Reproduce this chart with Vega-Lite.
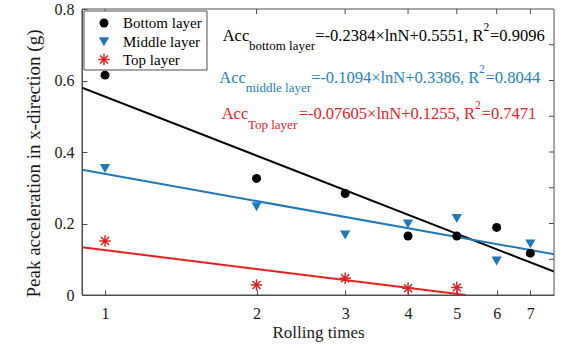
{
  "$schema": "https://vega.github.io/schema/vega-lite/v6.json",
  "width": 472,
  "height": 286,
  "autosize": "none",
  "padding": {"left": 82, "top": 9, "right": 33, "bottom": 59},
  "background": "white",
  "config": {
    "view": {"stroke": null},
    "font": "Liberation Serif, Times New Roman, DejaVu Serif, serif",
    "axis": {
      "labelFont": "Liberation Serif, Times New Roman, DejaVu Serif, serif",
      "titleFont": "Liberation Serif, Times New Roman, DejaVu Serif, serif",
      "labelFontSize": 16,
      "labelColor": "#1a1a1a",
      "titleColor": "#1a1a1a",
      "titleFontWeight": "normal",
      "domainColor": "#4d4d4d",
      "tickColor": "#4d4d4d",
      "domainWidth": 1,
      "tickWidth": 1,
      "grid": false,
      "tickSize": -5,
      "labelOverlap": false,
      "labelFlush": false
    },
    "axisY": {"tickCount": 8}
  },
  "datasets": {
    "points": [
      {"layer": "Bottom layer", "N": 1, "acc": 0.615},
      {"layer": "Bottom layer", "N": 2, "acc": 0.326},
      {"layer": "Bottom layer", "N": 3, "acc": 0.284},
      {"layer": "Bottom layer", "N": 4, "acc": 0.165},
      {"layer": "Bottom layer", "N": 5, "acc": 0.165},
      {"layer": "Bottom layer", "N": 6, "acc": 0.189},
      {"layer": "Bottom layer", "N": 7, "acc": 0.117},
      {"layer": "Middle layer", "N": 1, "acc": 0.354},
      {"layer": "Middle layer", "N": 2, "acc": 0.247},
      {"layer": "Middle layer", "N": 3, "acc": 0.168},
      {"layer": "Middle layer", "N": 4, "acc": 0.199},
      {"layer": "Middle layer", "N": 5, "acc": 0.214},
      {"layer": "Middle layer", "N": 6, "acc": 0.095},
      {"layer": "Middle layer", "N": 7, "acc": 0.143},
      {"layer": "Top layer", "N": 1, "acc": 0.151},
      {"layer": "Top layer", "N": 2, "acc": 0.028},
      {"layer": "Top layer", "N": 3, "acc": 0.047},
      {"layer": "Top layer", "N": 4, "acc": 0.019},
      {"layer": "Top layer", "N": 5, "acc": 0.021}
    ],
    "lines": [
      {"layer": "Bottom layer", "N": 0.9, "acc": 0.5802},
      {"layer": "Bottom layer", "N": 7.8, "acc": 0.0654},
      {"layer": "Middle layer", "N": 0.9, "acc": 0.3501},
      {"layer": "Middle layer", "N": 7.8, "acc": 0.1139},
      {"layer": "Top layer", "N": 0.9, "acc": 0.1335},
      {"layer": "Top layer", "N": 5.208, "acc": 0.0}
    ],
    "labels": [
      {"layer": "Bottom layer", "part": "base", "text": "Acc", "N": 1.713, "acc": 0.7231},
      {"layer": "Bottom layer", "part": "sub", "text": "bottom layer", "N": 1.932, "acc": 0.6979},
      {"layer": "Bottom layer", "part": "base", "text": "=-0.2384×lnN+0.5551, R", "N": 2.617, "acc": 0.7245},
      {"layer": "Bottom layer", "part": "sup", "text": "2", "N": 5.65, "acc": 0.7469},
      {"layer": "Bottom layer", "part": "base", "text": "=0.9096", "N": 5.82, "acc": 0.7245},
      {"layer": "Middle layer", "part": "base", "text": "Acc", "N": 1.687, "acc": 0.6056},
      {"layer": "Middle layer", "part": "sub", "text": "middle layer", "N": 1.903, "acc": 0.5804},
      {"layer": "Middle layer", "part": "base", "text": "=-0.1094×lnN+0.3386, R", "N": 2.566, "acc": 0.607},
      {"layer": "Middle layer", "part": "sup", "text": "2", "N": 5.534, "acc": 0.6294},
      {"layer": "Middle layer", "part": "base", "text": "=0.8044", "N": 5.702, "acc": 0.607},
      {"layer": "Top layer", "part": "base", "text": "Acc", "N": 1.705, "acc": 0.5049},
      {"layer": "Top layer", "part": "sub", "text": "Top layer", "N": 1.923, "acc": 0.4755},
      {"layer": "Top layer", "part": "base", "text": "=-0.07605×lnN+0.1255, R", "N": 2.425, "acc": 0.5063},
      {"layer": "Top layer", "part": "sup", "text": "2", "N": 5.436, "acc": 0.5287},
      {"layer": "Top layer", "part": "base", "text": "=0.7471", "N": 5.601, "acc": 0.5063}
    ],
    "legendBox": [
      {"N1": 0.9083, "N2": 1.5944, "a1": 0.7944, "a2": 0.6294}
    ],
    "legendEntries": [
      {"layer": "Bottom layer", "N": 0.9953, "labelN": 1.0857, "acc": 0.7608},
      {"layer": "Middle layer", "N": 0.9953, "labelN": 1.0857, "acc": 0.7084},
      {"layer": "Top layer", "N": 0.9953, "labelN": 1.0857, "acc": 0.6587}
    ],
    "frame": [
      {"N1": 0.9, "N2": 7.8, "a1": 0, "a2": 0.8}
    ],
    "xticks": [{"N": 1}, {"N": 2}, {"N": 3}, {"N": 4}, {"N": 5}, {"N": 6}, {"N": 7}],
    "yticks": [{"acc": 0.1}, {"acc": 0.2}, {"acc": 0.3}, {"acc": 0.4}, {"acc": 0.5}, {"acc": 0.6}, {"acc": 0.7}]
  },
  "layer": [
    {
      "data": {"name": "lines"},
      "mark": {"type": "line", "strokeWidth": 2, "clip": true},
      "encoding": {
        "x": {
          "field": "N", "type": "quantitative",
          "scale": {"type": "log", "domain": [0.9, 7.8], "nice": false},
          "axis": {"orient": "bottom", "title": "Rolling times", "values": [1, 2, 3, 4, 5, 6, 7], "format": "d", "labelPadding": 15, "titleFontSize": 17, "titleY": 37, "titleBaseline": "middle"}
        },
        "y": {
          "field": "acc", "type": "quantitative",
          "scale": {"domain": [0, 0.8], "nice": false, "zero": false},
          "axis": {"orient": "left", "title": "Peak acceleration in x-direction (g)", "values": [0, 0.1, 0.2, 0.3, 0.4, 0.5, 0.6, 0.7, 0.8], "tickCount": 8, "labelExpr": "datum.value == 0 ? '0' : format(datum.value, '.1f')", "labelPadding": 13, "titleFontSize": 19, "titleX": -49, "titleY": 154, "titleBaseline": "middle", "titleAngle": -90, "titleAlign": "center"}
        },
        "stroke": {
          "field": "layer", "type": "nominal",
          "scale": {"domain": ["Bottom layer", "Middle layer", "Top layer"], "range": ["#000000", "#1f78b8", "#e3221f"]},
          "legend": null
        }
      }
    },
    {
      "data": {"name": "frame"},
      "mark": {"type": "rect", "fill": "transparent", "stroke": "#4d4d4d", "strokeWidth": 1},
      "encoding": {
        "x": {"field": "N1", "type": "quantitative"},
        "x2": {"field": "N2"},
        "y": {"field": "a1", "type": "quantitative"},
        "y2": {"field": "a2"}
      }
    },
    {
      "data": {"name": "xticks"},
      "mark": {"type": "tick", "orient": "vertical", "size": 10, "thickness": 1, "color": "#4d4d4d", "opacity": 1, "clip": true},
      "encoding": {
        "x": {"field": "N", "type": "quantitative"},
        "y": {"datum": 0.8, "type": "quantitative"}
      }
    },
    {
      "data": {"name": "yticks"},
      "mark": {"type": "tick", "orient": "horizontal", "size": 10, "thickness": 1, "color": "#4d4d4d", "opacity": 1, "clip": true},
      "encoding": {
        "x": {"datum": 7.8, "type": "quantitative"},
        "y": {"field": "acc", "type": "quantitative"}
      }
    },
    {
      "data": {"name": "points"},
      "mark": {"type": "point", "filled": true, "opacity": 1},
      "encoding": {
        "x": {"field": "N", "type": "quantitative"},
        "y": {"field": "acc", "type": "quantitative"},
        "color": {
          "field": "layer", "type": "nominal",
          "scale": {"domain": ["Bottom layer", "Middle layer", "Top layer"], "range": ["#000000", "#1f78b8", "#e3221f"]},
          "legend": null
        },
        "shape": {
          "field": "layer", "type": "nominal",
          "scale": {"domain": ["Bottom layer", "Middle layer", "Top layer"], "range": ["circle", "triangle-down", "M-0.13,-1L0.13,-1L0.13,1L-0.13,1ZM1,-0.13L1,0.13L-1,0.13L-1,-0.13ZM0.615,-0.799L0.799,-0.615L-0.615,0.799L-0.799,0.615ZM0.799,0.615L0.615,0.799L-0.799,-0.615L-0.615,-0.799Z"]},
          "legend": null
        },
        "size": {
          "field": "layer", "type": "nominal",
          "scale": {"domain": ["Bottom layer", "Middle layer", "Top layer"], "range": [80, 130, 85]},
          "legend": null
        }
      }
    },
    {
      "data": {"name": "labels"},
      "transform": [{"filter": "datum.part == 'base'"}],
      "mark": {"type": "text", "align": "left", "baseline": "middle", "fontSize": 16.5, "font": "Liberation Serif, Times New Roman, DejaVu Serif, serif"},
      "encoding": {
        "x": {"field": "N", "type": "quantitative"},
        "y": {"field": "acc", "type": "quantitative"},
        "text": {"field": "text", "type": "nominal"},
        "fill": {
          "field": "layer", "type": "nominal",
          "scale": {"domain": ["Bottom layer", "Middle layer", "Top layer"], "range": ["#000000", "#2483bf", "#e3221f"]},
          "legend": null
        }
      }
    },
    {
      "data": {"name": "labels"},
      "transform": [{"filter": "datum.part == 'sub'"}],
      "mark": {"type": "text", "align": "left", "baseline": "middle", "fontSize": 13, "font": "Liberation Serif, Times New Roman, DejaVu Serif, serif"},
      "encoding": {
        "x": {"field": "N", "type": "quantitative"},
        "y": {"field": "acc", "type": "quantitative"},
        "text": {"field": "text", "type": "nominal"},
        "fill": {"field": "layer", "type": "nominal", "legend": null}
      }
    },
    {
      "data": {"name": "labels"},
      "transform": [{"filter": "datum.part == 'sup'"}],
      "mark": {"type": "text", "align": "left", "baseline": "middle", "fontSize": 11.5, "font": "Liberation Serif, Times New Roman, DejaVu Serif, serif"},
      "encoding": {
        "x": {"field": "N", "type": "quantitative"},
        "y": {"field": "acc", "type": "quantitative"},
        "text": {"field": "text", "type": "nominal"},
        "fill": {"field": "layer", "type": "nominal", "legend": null}
      }
    },
    {
      "data": {"name": "legendBox"},
      "mark": {"type": "rect", "fill": "white", "stroke": "#4d4d4d", "strokeWidth": 1},
      "encoding": {
        "x": {"field": "N1", "type": "quantitative"},
        "x2": {"field": "N2"},
        "y": {"field": "a1", "type": "quantitative"},
        "y2": {"field": "a2"}
      }
    },
    {
      "data": {"name": "legendEntries"},
      "mark": {"type": "point", "filled": true, "opacity": 1},
      "encoding": {
        "x": {"field": "N", "type": "quantitative"},
        "y": {"field": "acc", "type": "quantitative"},
        "color": {"field": "layer", "type": "nominal", "legend": null},
        "shape": {"field": "layer", "type": "nominal", "legend": null},
        "size": {"field": "layer", "type": "nominal", "legend": null}
      }
    },
    {
      "data": {"name": "legendEntries"},
      "mark": {"type": "text", "align": "left", "baseline": "middle", "fontSize": 15, "font": "Liberation Serif, Times New Roman, DejaVu Serif, serif", "fill": "#000000"},
      "encoding": {
        "x": {"field": "labelN", "type": "quantitative"},
        "y": {"field": "acc", "type": "quantitative"},
        "text": {"field": "layer", "type": "nominal"}
      }
    }
  ]
}
